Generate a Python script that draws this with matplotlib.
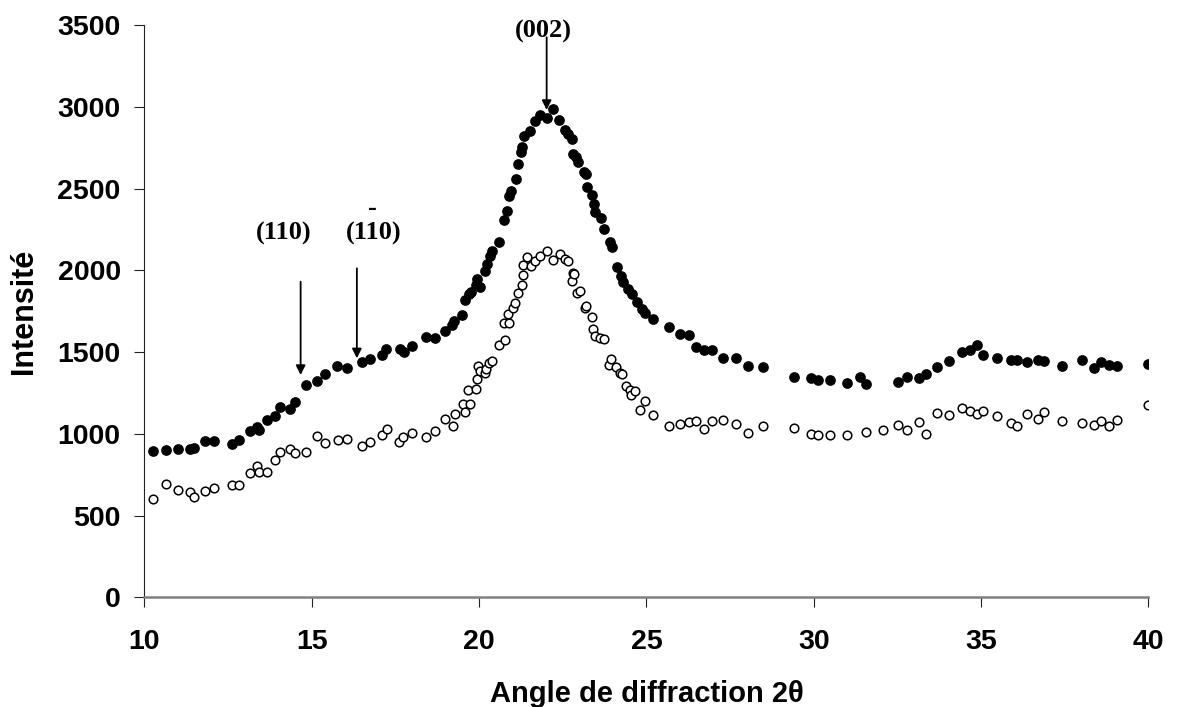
import matplotlib
matplotlib.use("Agg")
import matplotlib.pyplot as plt

# filled series (upper curve)
x_full = [10.25, 10.65, 11.02, 11.37, 11.47, 11.82, 12.08, 12.63, 12.83, 13.16, 13.36, 13.44,
          13.66, 13.9, 14.06, 14.36, 14.51, 14.83, 15.17, 15.4, 15.77, 16.05, 16.51, 16.73,
          17.1, 17.23, 17.64, 17.76, 17.99, 18.42, 18.69, 18.99, 19.19, 19.26, 19.49, 19.57,
          19.69, 19.76, 19.92, 19.94, 20.04, 20.18, 20.25, 20.33, 20.38, 20.6, 20.76, 20.83,
          20.91, 20.96, 21.1, 21.15, 21.26, 21.28, 21.33, 21.53, 21.68, 21.81, 22.03, 22.2,
          22.4, 22.57, 22.67, 22.79, 22.8, 22.9, 22.97, 23.14, 23.2, 23.22, 23.39, 23.42,
          23.47, 23.65, 23.72, 23.9, 23.97, 24.12, 24.25, 24.3, 24.45, 24.57, 24.72, 24.87,
          24.97, 25.21, 25.69, 25.99, 26.26, 26.49, 26.71, 26.96, 27.28, 27.68, 28.03, 28.48,
          29.42, 29.92, 30.14, 30.5, 30.99, 31.37, 31.56, 32.52, 32.78, 33.13, 33.36, 33.68,
          34.05, 34.43, 34.68, 34.88, 35.07, 35.47, 35.89, 36.07, 36.38, 36.7, 36.89, 37.43,
          38.02, 38.37, 38.58, 38.83, 39.05, 39.99]
y_full = [895, 900, 905, 905, 915, 955, 955, 940, 964, 1017, 1044, 1025,
          1085, 1107, 1165, 1154, 1193, 1296, 1322, 1367, 1412, 1404, 1441, 1455,
          1482, 1517, 1521, 1500, 1537, 1595, 1588, 1629, 1664, 1690, 1725, 1819,
          1854, 1868, 1909, 1946, 1901, 1997, 2038, 2090, 2120, 2176, 2309, 2366,
          2458, 2489, 2560, 2649, 2724, 2755, 2823, 2851, 2915, 2953, 2933, 2990,
          2920, 2857, 2837, 2806, 2714, 2694, 2663, 2602, 2591, 2510, 2462, 2407,
          2360, 2319, 2253, 2176, 2141, 2018, 1967, 1926, 1885, 1854, 1807, 1762,
          1742, 1704, 1654, 1609, 1605, 1533, 1511, 1511, 1466, 1466, 1418, 1408,
          1349, 1343, 1332, 1332, 1308, 1349, 1302, 1318, 1347, 1339, 1363, 1408,
          1445, 1502, 1510, 1541, 1482, 1465, 1449, 1449, 1441, 1451, 1445, 1414,
          1451, 1400, 1441, 1420, 1414, 1429]

# open series (lower curve)
x_open = [10.25, 10.65, 11.02, 11.37, 11.47, 11.82, 12.08, 12.63, 12.83, 13.16, 13.36, 13.44,
          13.66, 13.9, 14.06, 14.36, 14.51, 14.83, 15.17, 15.4, 15.78, 16.05, 16.51, 16.73,
          17.1, 17.25, 17.62, 17.74, 17.99, 18.41, 18.69, 18.99, 19.21, 19.27, 19.51, 19.59,
          19.67, 19.74, 19.92, 19.94, 19.97, 20.04, 20.18, 20.21, 20.31, 20.38, 20.6, 20.76,
          20.78, 20.88, 20.9, 21.01, 21.08, 21.15, 21.29, 21.31, 21.31, 21.43, 21.55, 21.68,
          21.83, 22.03, 22.2, 22.41, 22.57, 22.65, 22.77, 22.8, 22.85, 22.94, 23.02, 23.17,
          23.2, 23.39, 23.4, 23.47, 23.62, 23.72, 23.87, 23.95, 24.1, 24.22, 24.27, 24.4,
          24.5, 24.55, 24.67, 24.8, 24.95, 25.21, 25.69, 25.99, 26.26, 26.49, 26.71, 26.96,
          27.28, 27.68, 28.03, 28.48, 29.42, 29.92, 30.14, 30.5, 30.99, 31.56, 32.06, 32.52,
          32.78, 33.14, 33.36, 33.68, 34.05, 34.43, 34.68, 34.88, 35.07, 35.47, 35.89, 36.07,
          36.36, 36.71, 36.89, 37.43, 38.02, 38.37, 38.58, 38.83, 39.05, 39.99]
y_open = [600, 692, 657, 643, 616, 651, 671, 688, 684, 760, 806, 769,
          769, 841, 886, 907, 882, 888, 984, 944, 964, 968, 927, 950,
          995, 1032, 947, 981, 1005, 981, 1019, 1093, 1050, 1124, 1185, 1134,
          1271, 1183, 1275, 1337, 1418, 1383, 1373, 1398, 1435, 1445, 1541, 1676,
          1574, 1736, 1676, 1768, 1803, 1864, 1911, 1973, 2032, 2080, 2028, 2059,
          2090, 2120, 2063, 2100, 2069, 2055, 1936, 1983, 1977, 1859, 1875, 1767,
          1783, 1715, 1644, 1598, 1588, 1578, 1420, 1459, 1410, 1374, 1363, 1291,
          1271, 1236, 1265, 1148, 1200, 1117, 1046, 1062, 1070, 1077, 1030, 1081,
          1087, 1062, 1005, 1050, 1036, 999, 990, 995, 995, 1011, 1025, 1052,
          1021, 1073, 1001, 1128, 1113, 1158, 1138, 1124, 1138, 1111, 1066, 1046,
          1124, 1091, 1134, 1081, 1066, 1056, 1081, 1046, 1087, 1175]

fig = plt.figure(figsize=(11.79, 7.07), dpi=100)
ax = fig.add_axes([0.1224, 0.1553, 0.8517, 0.8089])

ax.plot(x_full, y_full, 'o', color='black', markersize=6.7, linestyle='none')
ax.plot(x_open, y_open, 'o', markerfacecolor='white', markeredgecolor='black',
        markeredgewidth=1.1, markersize=6.2, linestyle='none')

ax.set_xlim(10, 40)
ax.set_ylim(0, 3500)
ax.set_xticks(range(10, 41, 5))
ax.set_yticks(range(0, 3501, 500))

for s in ['top', 'right']:
    ax.spines[s].set_visible(False)
ax.spines['left'].set_color('#222222')
ax.spines['bottom'].set_color('#808080')
ax.spines['bottom'].set_linewidth(1.8)
ax.tick_params(axis='x', direction='out', length=7, labelsize=20.5, pad=16, color='#222222')
ax.tick_params(axis='y', direction='out', length=7, labelsize=20.5, pad=10, color='#222222')
for lab in ax.get_xticklabels() + ax.get_yticklabels():
    lab.set_fontweight('bold')
    lab.set_family('Liberation Sans')

ax.set_xlabel('Angle de diffraction 2θ', fontsize=21, fontweight='bold',
              family='Liberation Sans', labelpad=18)
ax.set_ylabel('Intensité', fontsize=22, fontweight='bold',
              family='Liberation Sans', labelpad=13)

# peak annotations
serif = dict(family='Liberation Serif', fontweight='bold', fontsize=19, ha='center', va='center')
arrow = dict(arrowstyle='-|>', color='black', lw=1.3, mutation_scale=14, shrinkA=0, shrinkB=0)
ax.annotate('', xy=(14.67, 1360), xytext=(14.67, 1931), arrowprops=arrow)
ax.text(14.15, 2227, '(110)', **serif)
ax.annotate('', xy=(16.35, 1462), xytext=(16.35, 2013), arrowprops=arrow)
ax.text(16.85, 2227, '(110)', **serif)
ax.text(16.83, 2380, '-', family='Liberation Serif', fontweight='bold',
        fontsize=19, ha='center', va='center')
ax.annotate('', xy=(22.02, 2982), xytext=(22.02, 3427), arrowprops=arrow,
            annotation_clip=False)
ax.text(21.92, 3465, '(002)', clip_on=False, **serif)

fig.savefig('out.png', dpi=100)
